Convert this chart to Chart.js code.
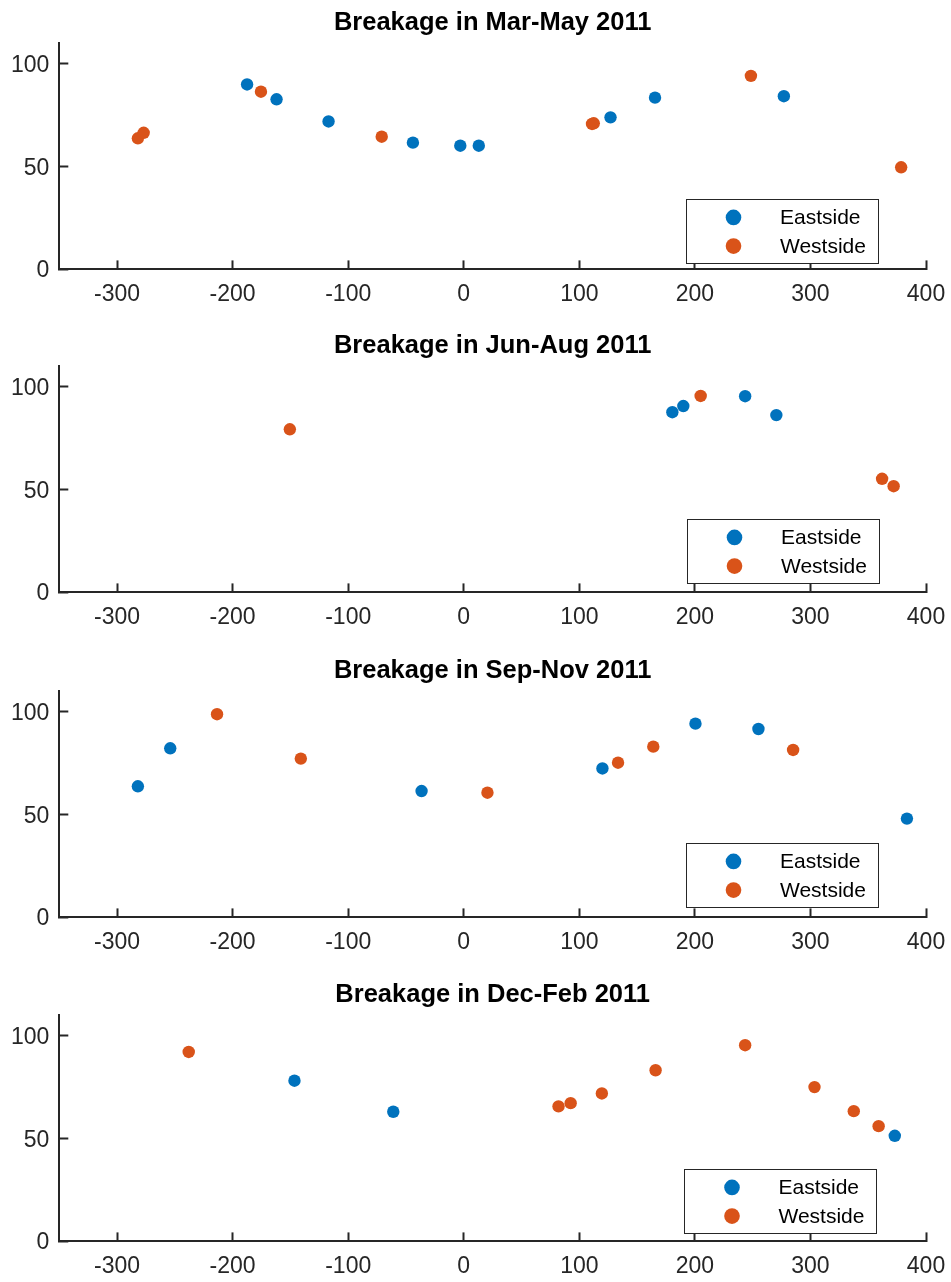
<!DOCTYPE html>
<html>
<head>
<meta charset="utf-8">
<script src="https://cdn.jsdelivr.net/npm/chart.js@4"></script>
<style>
  html, body { margin: 0; padding: 0; background: #ffffff; overflow: hidden; }
  #wrap { position: relative; width: 951px; height: 1282px; }
  #wrap canvas { position: absolute; left: 0; }
</style>
</head>
<body>
<div id="wrap"></div>
<script>
// Breakage readings by location, one panel per season
const seasonTitles = [
  'Breakage in Mar-May 2011',
  'Breakage in Jun-Aug 2011',
  'Breakage in Sep-Nov 2011',
  'Breakage in Dec-Feb 2011'
];
const seriesNames = ['Eastside', 'Westside'];

const marMayEastX = [-187.5, -162, -117, -44, -3, 13, 127, 165.5, 277];
const marMayEastY = [90, 82.8, 72, 61.7, 60.2, 60.2, 74, 83.6, 84.3];
const marMayWestX = [-282, -277, -175.5, -71, 111, 112.5, 248.5, 378.5];
const marMayWestY = [63.8, 66.5, 86.5, 64.6, 70.8, 71.1, 94.2, 49.7];

const junAugEastX = [180.5, 190, 243.5, 270.5];
const junAugEastY = [87.7, 90.7, 95.5, 86.3];
const junAugWestX = [-150.5, 205, 362, 372];
const junAugWestY = [79.4, 95.6, 55.3, 51.7];

const sepNovEastX = [-282, -254, -36.5, 120, 200.5, 255, 383.5];
const sepNovEastY = [63.8, 82.3, 61.5, 72.5, 94.3, 91.7, 48.1];
const sepNovWestX = [-213.5, -141, 20.5, 133.5, 164, 285];
const sepNovWestY = [98.9, 77.3, 60.7, 75.3, 83.1, 81.5];

const decFebEastX = [-146.5, -61, 373];
const decFebEastY = [78.2, 63.1, 51.4];
const decFebWestX = [-238, 82, 92.5, 119.5, 166, 243.5, 303.5, 337.5, 359];
const decFebWestY = [92.2, 65.7, 67.3, 72, 83.3, 95.5, 75.1, 63.4, 56.1];

const xTickValues = [-300, -200, -100, 0, 100, 200, 300, 400];
const yTickValues = [0, 50, 100];

const eastSeries = [
  [marMayEastX, marMayEastY], [junAugEastX, junAugEastY],
  [sepNovEastX, sepNovEastY], [decFebEastX, decFebEastY]
];
const westSeries = [
  [marMayWestX, marMayWestY], [junAugWestX, junAugWestY],
  [sepNovWestX, sepNovWestY], [decFebWestX, decFebWestY]
];

// Look and placement
const EAST_COLOR = '#0072BD';
const WEST_COLOR = '#D95319';
const AXIS_COLOR = '#262626';
const FONT = '"Liberation Sans", Arial, Helvetica, sans-serif';
const CANVAS_W = 951;
const CANVAS_H = 310;
const panelTops = [0, 323, 648, 972];
const legendLeft = [685.5, 686.5, 685.5, 684];
const legendLift = [6, 9, 10, 8];

const toPoints = (xs, ys) => xs.map((x, i) => ({ x: x, y: ys[i] }));

// Boxed legend drawn inside the plot area, lower right
const boxLegend = {
  id: 'boxLegend',
  afterDraw(chart, args, opts) {
    const ctx = chart.ctx;
    const w = opts.width, h = opts.height;
    const left = opts.left;
    const top = chart.chartArea.bottom - opts.lift - h;
    ctx.save();
    ctx.fillStyle = '#ffffff';
    ctx.fillRect(left, top, w, h);
    ctx.strokeStyle = AXIS_COLOR;
    ctx.lineWidth = 1;
    ctx.strokeRect(Math.round(left) + 0.5, Math.round(top) + 0.5, w, h);
    ctx.font = '21px ' + FONT;
    ctx.textBaseline = 'middle';
    ctx.textAlign = 'left';
    chart.data.datasets.forEach((ds, i) => {
      const cy = top + 18 + i * 28.7;
      ctx.beginPath();
      ctx.arc(left + 48, cy, 7.8, 0, Math.PI * 2);
      ctx.fillStyle = ds.backgroundColor;
      ctx.fill();
      ctx.fillStyle = '#000000';
      ctx.fillText(ds.label, left + 94.5, cy + 1);
    });
    ctx.restore();
  }
};

function axisOptions(isX) {
  const ticks = isX ? xTickValues : yTickValues;
  return {
    type: 'linear',
    min: isX ? -350 : 0,
    max: isX ? 400 : 110,
    afterBuildTicks: (s) => { s.ticks = ticks.map(v => ({ value: v })); },
    afterFit: (s) => {
      if (isX) { s.height = CANVAS_H - 269.4; s.paddingLeft = 0; s.paddingRight = 0; }
      else { s.width = 59.3; s.paddingTop = 0; s.paddingBottom = 0; }
    },
    grid: {
      display: true,
      drawOnChartArea: false,
      drawTicks: true,
      tickLength: -9,
      tickWidth: 2,
      tickColor: AXIS_COLOR
    },
    border: { display: true, color: AXIS_COLOR, width: 2 },
    ticks: {
      autoSkip: false,
      maxRotation: 0,
      minRotation: 0,
      padding: isX ? 20 : 19,
      labelOffset: isX ? 0 : 1.5,
      color: AXIS_COLOR,
      font: { family: FONT, size: 23, lineHeight: 1.2 }
    }
  };
}

const wrap = document.getElementById('wrap');
seasonTitles.forEach((title, p) => {
  const canvas = document.createElement('canvas');
  canvas.width = CANVAS_W;
  canvas.height = CANVAS_H;
  canvas.style.top = panelTops[p] + 'px';
  canvas.style.width = CANVAS_W + 'px';
  canvas.style.height = CANVAS_H + 'px';
  wrap.appendChild(canvas);

  new Chart(canvas, {
    type: 'scatter',
    data: {
      datasets: [
        {
          label: seriesNames[0],
          data: toPoints(eastSeries[p][0], eastSeries[p][1]),
          backgroundColor: EAST_COLOR,
          borderColor: EAST_COLOR,
          pointRadius: 6.2,
          pointBorderWidth: 0,
          pointHoverRadius: 6.2,
          order: 1
        },
        {
          label: seriesNames[1],
          data: toPoints(westSeries[p][0], westSeries[p][1]),
          backgroundColor: WEST_COLOR,
          borderColor: WEST_COLOR,
          pointRadius: 6.2,
          pointBorderWidth: 0,
          pointHoverRadius: 6.2,
          order: 0
        }
      ]
    },
    options: {
      responsive: false,
      animation: false,
      devicePixelRatio: 1,
      layout: { padding: { left: 0, right: 25, top: 0, bottom: 0 } },
      scales: { x: axisOptions(true), y: axisOptions(false) },
      plugins: {
        legend: { display: false },
        tooltip: { enabled: false },
        title: {
          display: true,
          text: title,
          fullSize: false,
          color: '#000000',
          font: { family: FONT, size: 25.5, weight: 'bold', lineHeight: 1.2 },
          padding: { top: 7.9, bottom: 4.9 }
        },
        boxLegend: { left: legendLeft[p], lift: legendLift[p], width: 192, height: 64 }
      }
    },
    plugins: [boxLegend]
  });
});
</script>
</body>
</html>
